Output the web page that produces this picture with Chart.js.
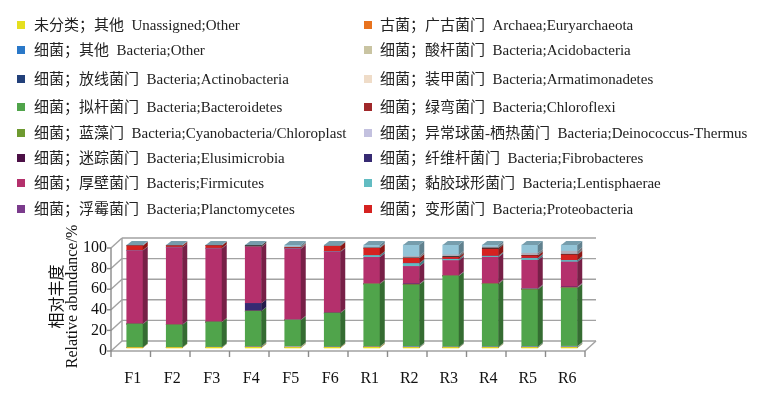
<!DOCTYPE html>
<html>
<head>
<meta charset="utf-8">
<script src="https://cdn.jsdelivr.net/npm/chart.js@4.4.1/dist/chart.umd.min.js"></script>
<style>
  html, body { margin: 0; padding: 0; background: #fff; }
  #wrap { position: relative; width: 767px; height: 399px; overflow: hidden; }
  #chart { position: absolute; left: 0; top: 0; }
  #legend { position: absolute; left: 0; top: 0; width: 767px; height: 230px;
    font-family: "Liberation Serif", "Noto Sans CJK SC", serif; font-size: 15px; color: #222; }
  .item { position: absolute; height: 18px; }
  .box { position: absolute; left: 0; top: 5px; width: 8px; height: 8px; }
  .txt { position: absolute; top: 0; line-height: 18px; white-space: pre; }
</style>
</head>
<body>
<div id="wrap">
  <canvas id="chart" width="767" height="399"></canvas>
  <div id="legend"></div>
</div>
<script>
const samples = ["F1", "F2", "F3", "F4", "F5", "F6", "R1", "R2", "R3", "R4", "R5", "R6"];

// relative abundance (%) per phylum, stacked bottom to top
const unassigned      = [0.3, 0.4, 0.6, 0.8, 0.5, 0.6, 0.8, 0.5, 0.5, 0.5, 0.5, 0.5];
const euryarchaeota   = [0.1, 0, 0, 0.1, 0, 0.1, 0.1, 0.1, 0, 0.1, 0.1, 0.1];
const bacteriaOther   = [0.1, 0.1, 0.1, 0.4, 0.1, 0.1, 0.2, 0.3, 0.2, 0.2, 0.3, 0.3];
const acidobacteria   = [0, 0, 0, 0.1, 0.3, 0, 0.1, 0.2, 0.1, 0.1, 0.2, 0.3];
const actinobacteria  = [0.1, 0, 0.1, 0.2, 0.1, 0.1, 0.1, 0.1, 0.1, 0.1, 0.1, 0.1];
const armatimonadetes = [0, 0, 0, 0, 0.4, 0, 0.1, 0.1, 0.1, 0, 0.1, 0.4];
const bacteroidetes   = [22.5, 21.8, 24.3, 34.0, 25.5, 32.8, 60.5, 60.0, 68.8, 61.0, 55.5, 56.5];
const chloroflexi     = [0.1, 0, 0, 0.1, 0.1, 0.1, 0.2, 0.2, 0.1, 0.2, 0.2, 0.2];
const cyanobacteria   = [0.1, 0.1, 0.1, 0.1, 0.1, 0.1, 0.2, 0.1, 0.1, 0.2, 0.1, 0.1];
const deinococcus     = [0, 0, 0, 0, 0.2, 0, 0.1, 0.3, 0.1, 0.1, 0.3, 0.4];
const elusimicrobia   = [0.1, 0, 0, 0.2, 0, 0.1, 0.1, 0.1, 0.1, 0.1, 0.1, 0.1];
const fibrobacteres   = [0.2, 0.1, 0.1, 7.3, 0.1, 0.2, 0.2, 0.2, 0.2, 0.2, 0.2, 0.2];
const firmicutes      = [71.0, 75.1, 71.3, 54.5, 68.8, 59.1, 25.3, 17.0, 14.5, 25.3, 27.5, 24.3];
const lentisphaerae   = [0.2, 0.2, 0.2, 0.2, 0.2, 0.3, 1.8, 2.8, 1.2, 1.0, 1.8, 1.5];
const planctomycetes  = [0.1, 0.1, 0.1, 0.1, 0.1, 0.1, 0.2, 0.3, 0.2, 0.2, 0.3, 0.2];
const proteobacteria  = [4.3, 1.3, 2.4, 0.4, 0.9, 5.0, 6.8, 4.8, 1.8, 6.8, 2.3, 5.3];
// phyla at the top of the stacks whose legend entries are not shown
const otherDark       = [0.1, 0.1, 0.1, 1.0, 0.1, 0.3, 0.3, 0.4, 0.8, 1.0, 0.4, 0.5];
const otherGrey       = [0.2, 0.1, 0.1, 0.1, 1.0, 0.2, 0.8, 1.5, 1.5, 1.0, 2.0, 3.0];
const otherLightBlue  = [0.5, 0.6, 0.5, 0.4, 1.5, 0.8, 2.1, 11.0, 9.6, 1.9, 8.0, 6.0];

const seriesNames = [
  "未分类；其他  Unassigned;Other",
  "古菌；广古菌门  Archaea;Euryarchaeota",
  "细菌；其他  Bacteria;Other",
  "细菌；酸杆菌门  Bacteria;Acidobacteria",
  "细菌；放线菌门  Bacteria;Actinobacteria",
  "细菌；装甲菌门  Bacteria;Armatimonadetes",
  "细菌；拟杆菌门  Bacteria;Bacteroidetes",
  "细菌；绿弯菌门  Bacteria;Chloroflexi",
  "细菌；蓝藻门  Bacteria;Cyanobacteria/Chloroplast",
  "细菌；异常球菌-栖热菌门  Bacteria;Deinococcus-Thermus",
  "细菌；迷踪菌门  Bacteria;Elusimicrobia",
  "细菌；纤维杆菌门  Bacteria;Fibrobacteres",
  "细菌；厚壁菌门  Bacteris;Firmicutes",
  "细菌；黏胶球形菌门  Bacteria;Lentisphaerae",
  "细菌；浮霉菌门  Bacteria;Planctomycetes",
  "细菌；变形菌门  Bacteria;Proteobacteria",
  "other A", "other B", "other C"
];
const seriesValues = [unassigned, euryarchaeota, bacteriaOther, acidobacteria, actinobacteria,
  armatimonadetes, bacteroidetes, chloroflexi, cyanobacteria, deinococcus, elusimicrobia,
  fibrobacteres, firmicutes, lentisphaerae, planctomycetes, proteobacteria,
  otherDark, otherGrey, otherLightBlue];
const seriesColors = ["#e5df1f", "#e8731e", "#2a78c8", "#c9c4a2", "#22407a", "#efdcc8",
  "#50a44b", "#a0282a", "#6e9a30", "#c3c1df", "#4c1046", "#362a72", "#b4306c", "#62bcc2",
  "#7b3b8c", "#d52220", "#2b2b2b", "#b0acb8", "#93c4d7"];
const legendCount = 16;

const shade = (hex, f) => {
  const n = parseInt(hex.slice(1), 16);
  const r = Math.round(((n >> 16) & 255) * f), g = Math.round(((n >> 8) & 255) * f), b = Math.round((n & 255) * f);
  return `rgb(${r},${g},${b})`;
};

// 3D look: bar depth, and front/back planes of the frame relative to the bars
const depth = { dx: 5, dy: -4 };
const front = { dx: -4, dy: 3 };
const back = { dx: 7, dy: -7 };

const frame3d = {
  id: "frame3d",
  beforeDatasetsDraw(chart) {
    const { ctx, chartArea: a, scales: { y } } = chart;
    const L = a.left, R = a.right;
    const line = (x1, y1, x2, y2) => { ctx.beginPath(); ctx.moveTo(x1, y1); ctx.lineTo(x2, y2); ctx.stroke(); };
    ctx.save();
    ctx.lineWidth = 1.4;
    ctx.strokeStyle = "#a2a2a2";
    y.ticks.forEach((t) => {
      const py = y.getPixelForValue(t.value);
      line(L + front.dx, py + front.dy, L + back.dx, py + back.dy);
      line(L + back.dx, py + back.dy, R + back.dx, py + back.dy);
    });
    const y0 = y.getPixelForValue(0), y1 = y.getPixelForValue(100);
    line(L + back.dx, y0 + back.dy, L + back.dx, y1 + back.dy);
    // floor front edge
    line(L + front.dx, y0 + front.dy, R + front.dx, y0 + front.dy);
    line(R + front.dx, y0 + front.dy, R + back.dx, y0 + back.dy);
    // front axis
    ctx.strokeStyle = "#8a8a8a";
    line(L + front.dx, y0 + front.dy, L + front.dx, y1 + front.dy);
    y.ticks.forEach((t) => {
      const py = y.getPixelForValue(t.value);
      line(L + front.dx - 4, py + front.dy, L + front.dx, py + front.dy);
    });
    for (let i = 0; i <= samples.length; i++) {
      const px = L + (i * (R - L)) / samples.length + front.dx;
      line(px, y0 + front.dy, px, y0 + front.dy + 6);
    }
    ctx.restore();
  },
  afterDatasetsDraw(chart) {
    const { ctx } = chart;
    const tops = [];
    ctx.save();
    chart.data.datasets.forEach((ds, di) => {
      const meta = chart.getDatasetMeta(di);
      meta.data.forEach((el, i) => {
        const { x, y, base, width } = el.getProps(["x", "y", "base", "width"], true);
        if (Math.abs(base - y) < 0.01) return;
        const r = x + width / 2;
        ctx.fillStyle = shade(ds.backgroundColor, 0.66);
        ctx.beginPath();
        ctx.moveTo(r, y);
        ctx.lineTo(r + depth.dx, y + depth.dy);
        ctx.lineTo(r + depth.dx, base + depth.dy);
        ctx.lineTo(r, base);
        ctx.closePath();
        ctx.fill();
        tops[i] = { x, y, width, color: ds.backgroundColor };
      });
    });
    tops.forEach((t) => {
      if (!t) return;
      const l = t.x - t.width / 2, r = t.x + t.width / 2;
      ctx.fillStyle = shade(t.color, 0.8);
      ctx.beginPath();
      ctx.moveTo(l, t.y);
      ctx.lineTo(r, t.y);
      ctx.lineTo(r + depth.dx, t.y + depth.dy);
      ctx.lineTo(l + depth.dx, t.y + depth.dy);
      ctx.closePath();
      ctx.fill();
    });
    ctx.restore();
  }
};

const axisFont = { family: "'Liberation Serif', 'Noto Sans CJK SC', serif", size: 16 };

new Chart(document.getElementById("chart").getContext("2d"), {
  type: "bar",
  data: {
    labels: samples,
    datasets: seriesValues.map((vals, i) => ({
      label: seriesNames[i],
      data: vals,
      backgroundColor: seriesColors[i],
      borderWidth: 0,
      barThickness: 16,
      clip: false
    }))
  },
  options: {
    responsive: false,
    animation: false,
    layout: { padding: { left: 46, right: 178, top: 245, bottom: 13 } },
    plugins: { legend: { display: false }, tooltip: { enabled: false } },
    scales: {
      x: {
        stacked: true,
        grid: { display: false, drawTicks: false },
        border: { display: false },
        ticks: { font: axisFont, color: "#111", padding: 21, labelOffset: -2, maxRotation: 0, autoSkip: false },
        afterFit: (s) => { s.height = 38; }
      },
      y: {
        stacked: true,
        min: 0,
        max: 100,
        grid: { display: false, drawTicks: false },
        border: { display: false },
        ticks: { stepSize: 20, font: axisFont, color: "#111", padding: 8, labelOffset: 3, autoSkip: false },
        title: {
          display: true,
          text: ["相对丰度", "Relative abundance/%"],
          font: { family: "'Liberation Serif', 'Noto Sans CJK SC', serif", size: 16, lineHeight: 0.95 },
          color: "#111"
        },
        afterFit: (s) => { s.width = 69; }
      }
    }
  },
  plugins: [frame3d]
});

// two-column legend, row-major like the original
const legendRowY = [25, 50, 79, 107, 133, 158, 183, 209];
const legendCols = [{ box: 17, text: 34 }, { box: 364, text: 380 }];
const legendEl = document.getElementById("legend");
for (let i = 0; i < legendCount; i++) {
  const col = legendCols[i % 2];
  const item = document.createElement("div");
  item.className = "item";
  item.style.left = col.box + "px";
  item.style.top = legendRowY[Math.floor(i / 2)] - 9 + "px";
  const box = document.createElement("span");
  box.className = "box";
  box.style.background = seriesColors[i];
  const txt = document.createElement("span");
  txt.className = "txt";
  txt.style.left = col.text - col.box + "px";
  txt.textContent = seriesNames[i];
  item.appendChild(box);
  item.appendChild(txt);
  legendEl.appendChild(item);
}
</script>
</body>
</html>
